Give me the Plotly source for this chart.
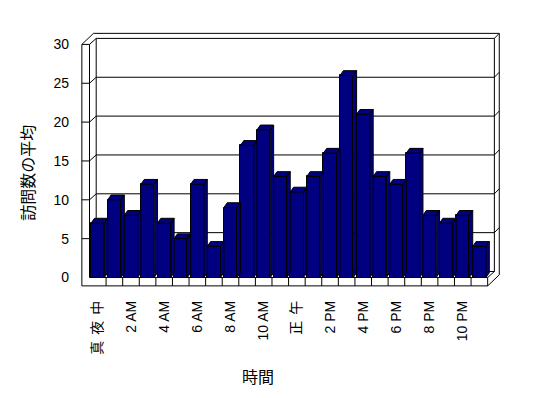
import plotly.graph_objects as go

# ---- data ----
hours = list(range(24))
visits = [7, 10, 8, 12, 7, 5, 12, 4, 9, 17, 19, 13, 11, 13, 16, 26, 21, 13, 12, 16, 8, 7, 8, 4]
tick_labels = ["真夜中", "2 AM", "4 AM", "6 AM", "8 AM", "10 AM",
               "正午", "2 PM", "4 PM", "6 PM", "8 PM", "10 PM"]
y_ticks = [0, 5, 10, 15, 20, 25, 30]
x_title = "時間"
y_title = "訪問数の平均"

# ---- style / geometry constants ----
NAVY = "#000080"
FONT = "Liberation Sans, 'Noto Sans CJK JP', sans-serif"
N = len(hours)
YMAX = y_ticks[-1]
D1 = (0.404, 0.772)   # inner depth of back wall
D2 = (0.70, 1.42)     # outer depth of back wall
LW = 0.46             # left wall thickness
FT = 1.08             # floor thickness
BW = 0.8              # bar front width
BD = (0.2, 0.62)      # bar depth

OFF = 8               # page body margin
W, H = 540, 390
L, T = 70 - OFF, 20 - OFF
PW, PH = 448, 272
R, B = W - L - PW, H - T - PH
x_range = [-1.1754, 25.829]
y_range = [-1.866, 33.14]


def spaced(label):
    # widen CJK labels like the original (spacing between glyphs only)
    if label.isascii() or len(label) < 2:
        return label
    return f'<span style="letter-spacing:6px">{label[:-1]}</span>{label[-1]}'


fig = go.Figure()

shapes = []
line = dict(color="black", width=1)


def seg(x0, y0, x1, y1):
    shapes.append(dict(type="line", xref="x", yref="y", x0=x0, y0=y0, x1=x1, y1=y1,
                       line=line, layer="below"))


def poly(pts, fill="white"):
    p = "M " + " L ".join(f"{x},{y}" for x, y in pts) + " Z"
    shapes.append(dict(type="path", xref="x", yref="y", path=p, line=line,
                       fillcolor=fill, layer="below"))


# back wall inner face
poly([(D1[0], D1[1]), (N + D1[0], D1[1]), (N + D1[0], YMAX + D1[1]), (D1[0], YMAX + D1[1])])
# front L (left wall face + floor face)
poly([(-LW, -FT), (-LW, YMAX), (0, YMAX), (0, 0), (N, 0), (N, -FT)])
# top of walls
seg(-LW, YMAX, -LW + D2[0], YMAX + D2[1])
seg(0, YMAX, D1[0], YMAX + D1[1])
seg(-LW + D2[0], YMAX + D2[1], N + D2[0], YMAX + D2[1])
seg(N + D1[0], YMAX + D1[1], N + D2[0], YMAX + D2[1])
# right end of back wall / floor
seg(N + D2[0], YMAX + D2[1], N + D2[0], -FT + D2[1])
seg(N, -FT, N + D2[0], -FT + D2[1])
seg(N, 0, N + D1[0], D1[1])
# gridlines
for v in y_ticks[:-1]:
    seg(D1[0], v + D1[1], N + D1[0], v + D1[1])
    if v > 0:
        seg(0, v, D1[0], v + D1[1])
        seg(-LW, v, 0, v)
        seg(N + D1[0], v + D1[1], N + D2[0], v + D2[1])
# floor front dividers
for i in range(1, N):
    seg(i, -FT, i, 0)

# bar fronts
fig.add_trace(go.Bar(
    x=[h + 0.5 for h in hours], y=visits, width=BW,
    marker=dict(color=NAVY, line=dict(color="black", width=1)),
    hoverinfo="skip", showlegend=False,
))

# bar sides and tops
xs, ys = [], []
for h, v in zip(hours, visits):
    x0 = h + 0.5 - BW / 2
    x1 = h + 0.5 + BW / 2
    xs += [x1, x1, x1 + BD[0], x1 + BD[0], x1, None]
    ys += [0, v, v + BD[1], BD[1], 0, None]
    xs += [x0, x1, x1 + BD[0], x0 + BD[0], x0, None]
    ys += [v, v, v + BD[1], v + BD[1], v, None]
fig.add_trace(go.Scatter(
    x=xs, y=ys, mode="lines", fill="toself", fillcolor=NAVY,
    line=dict(color="black", width=1), hoverinfo="skip", showlegend=False,
))

fig.update_layout(
    width=W, height=H,
    margin=dict(l=L, r=R, t=T, b=B, autoexpand=False),
    paper_bgcolor="white", plot_bgcolor="white",
    font=dict(family=FONT, size=14, color="black"),
    shapes=shapes,
    bargap=0,
    xaxis=dict(range=x_range, showgrid=False, zeroline=False, showline=False,
               tickvals=[h + 0.5 for h in hours[::2]],
               ticktext=[spaced(t) for t in tick_labels],
               tickangle=-90, ticks="", tickfont=dict(size=14),
               ticklabelstandoff=5, automargin=False),
    yaxis=dict(range=y_range, showgrid=False, zeroline=False, showline=False,
               tickvals=y_ticks, ticks="", tickfont=dict(size=14), automargin=False),
    annotations=[
        dict(text=y_title, xref="paper", yref="paper",
             x=(27.7 - OFF - L) / PW, y=(T + PH - (173 - OFF)) / PH,
             textangle=-90, showarrow=False, font=dict(size=16),
             xanchor="center", yanchor="middle"),
        dict(text=x_title, xref="paper", yref="paper",
             x=(258 - OFF - L) / PW, y=(T + PH - (377 - OFF)) / PH,
             showarrow=False, font=dict(size=16),
             xanchor="center", yanchor="middle"),
    ],
)

fig.write_html("out.html")
